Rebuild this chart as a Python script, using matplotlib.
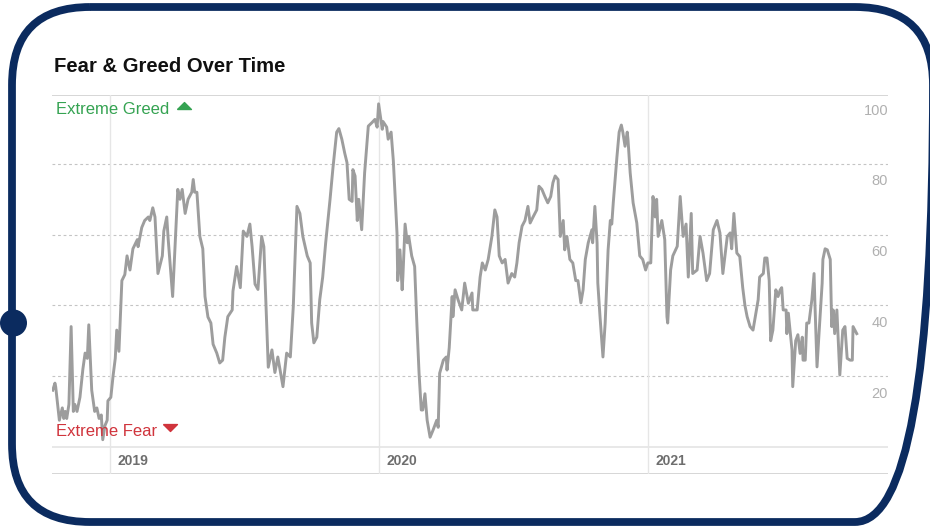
import numpy as np
import matplotlib
matplotlib.use("Agg")
import matplotlib.pyplot as plt
import matplotlib.dates as mdates
from matplotlib.patches import FancyBboxPatch, Circle

plt.rcParams['font.family'] = ['Liberation Sans', 'DejaVu Sans']

# index readings, as days after the first sample date
start_date = np.datetime64('2018-10-14')
day_offsets = [
    1, 4, 5, 10, 14, 16, 18, 20, 23, 26,
    29, 31, 34, 38, 42, 45, 48, 50, 54, 58,
    61, 64, 67, 69, 72, 75, 76, 80, 83, 86,
    88, 91, 95,
    99, 102, 106, 110, 116, 117, 122, 126, 131, 133,
    137, 140, 144, 150, 152, 156, 158, 164, 171, 174,
    177, 181, 185, 190, 192, 194, 197, 201, 205, 208,
    212, 216, 219, 224, 228, 232, 235, 239, 245, 246,
    251, 256, 260, 265, 269, 272, 276, 280, 285, 288,
    294, 299, 303, 307, 314, 319, 324, 328, 333, 337,
    341, 347, 351, 353, 356, 360, 364, 368, 372, 378,
    382, 387, 390,
    394, 398, 401, 404, 408, 409, 412, 415, 417, 421,
    425, 430, 435, 439, 442, 444, 449, 450, 455, 457,
    461, 464, 469, 470, 473, 476, 477, 480, 483, 485,
    489, 493, 496, 499, 502, 504, 507, 510, 514, 518,
    523, 525, 527, 532, 536, 537, 540, 544, 545, 548,
    552, 557, 561, 566, 571, 572, 578, 582, 585, 589,
    593, 598, 602, 605, 608, 612, 616, 620, 625, 629,
    632, 635, 639, 643, 647, 650, 654, 659, 662, 666,
    670, 674, 678, 681, 684, 688, 691, 695, 697, 700,
    704, 708, 712, 715, 719, 722, 725, 729, 734, 735,
    738, 741, 742, 745, 749, 752, 756, 759, 761, 763,
    768,
    771, 774, 776, 779, 782, 783, 786, 790, 795, 799,
    803, 807, 810, 814, 817, 820, 822, 824, 829, 833,
    836, 837, 841, 844, 850, 854, 858, 862, 865, 869,
    871, 877, 881, 885, 890, 894, 899, 904, 908, 912,
    918, 922, 924, 927, 931, 935, 939, 942, 945, 949,
    953, 960, 962, 967, 969, 972, 975, 977, 980, 984,
    987, 990, 992, 994, 998, 999, 1001, 1006, 1007, 1011,
    1014, 1017, 1020, 1021, 1024, 1026, 1029, 1033, 1036, 1037,
    1040, 1043, 1047, 1048, 1051, 1054, 1058, 1060, 1062, 1064,
    1067, 1071, 1075, 1078, 1081, 1085, 1088, 1089, 1094,
]
index_values = [
    16, 18, 17, 7.5, 11, 8, 10, 8, 12, 34,
    10, 12, 10, 14, 22, 26.5, 25, 34.5, 16, 10,
    11, 8, 9, 2, 6, 7.5, 13, 14, 20, 25,
    33, 27, 47,
    48.7, 54, 50, 56, 58.6, 56.6, 62, 64, 65, 64,
    67.6, 65, 49, 54, 61, 65, 58.6, 42.5, 72.8, 70,
    72.8, 66, 70, 72, 75.6, 72, 72, 59.5, 56, 42.5,
    36.7, 35, 29, 26.5, 23.7, 24.5, 31, 36.8, 38.7, 44,
    51, 45, 61, 59.5, 63, 56.7, 46, 44.5, 59.5, 56.6,
    22.5, 27.4, 21, 25.4, 17, 26.5, 25.4, 39.6, 68, 66,
    59.5, 54, 52, 35, 29.4, 31, 41.6, 48, 57.6, 70,
    79, 89, 90,
    87, 83, 80.4, 70, 69.4, 78.4, 76.6, 64, 70, 61.4,
    77.5, 90.7, 91.7, 92.6, 90.4, 97, 89.8, 92, 90.4, 87,
    89, 81, 60.5, 47, 55.7, 44.4, 48, 63, 57.7, 59.5,
    54, 51, 35, 20.8, 10.4, 10.4, 15, 7.5, 2.7, 4.7,
    7.5, 5.5, 20.8, 24.5, 25.4, 21.7, 28, 42.5, 36.8, 44.4,
    41.6, 38.7, 46.3, 40.6, 43.5, 38.7, 38.7, 48, 52, 50,
    53, 59.5, 67, 65, 54, 52, 53, 46.3, 49, 48,
    52, 57.7, 62.4, 64, 68, 63.3, 65, 67, 73.7, 72.8,
    70.8, 69, 70.8, 74.7, 76.6, 75.6, 59.5, 64, 55.7, 59.5,
    53, 52, 47, 47, 40.7, 44.4, 53, 57.7, 61.4, 57.7,
    68, 57.7, 46.3, 36.8, 25.4, 35, 55.7, 64, 63, 69,
    82,
    89, 91, 89, 85, 89, 87, 77.5, 69, 63.3, 54,
    53, 50, 52, 52, 70.8, 65, 70, 59.5, 64, 58.6,
    36.8, 35, 50, 54, 56.7, 70.8, 59.5, 63, 48, 66,
    49, 50, 59.5, 54.8, 47, 49, 61.4, 64, 60.5, 49,
    59.5, 60.5, 56, 66, 54.8, 53.8, 45, 40, 36.8, 34,
    33, 41.6, 48, 49, 53.4, 53.4, 47, 30, 33, 44.4,
    42.5, 44.4, 45, 38.7, 38.7, 32, 37.8, 27.4, 17, 30,
    31.7, 26.4, 31, 24.5, 24.5, 35, 35, 41.6, 49, 41.6,
    22.6, 33, 46.3, 53, 56, 55.7, 53, 34, 38.7, 32,
    38.7, 20.3, 33, 34, 25, 24.5, 24.5, 34, 32,
]
grid_levels = [20, 40, 60, 80]
tick_levels = [20, 40, 60, 80, 100]
year_starts = ['2019-01-01', '2020-01-01', '2021-01-01']
year_labels = ['2019', '2020', '2021']

assert len(day_offsets) == len(index_values)
dates = start_date + np.array(day_offsets).astype('timedelta64[D]')

navy = '#0b2b5f'
greed_green = '#35a352'
fear_red = '#d0343c'
fig = plt.figure(figsize=(9.3, 5.29), dpi=100)
fig.patch.set_facecolor('white')

# background layer in pixel units for the rounded frame
bg = fig.add_axes([0, 0, 1, 1], zorder=0)
bg.set_xlim(0, 930)
bg.set_ylim(529, 0)
bg.axis('off')
frame = FancyBboxPatch((12, 7), 921, 515,
                       boxstyle='round,pad=0,rounding_size=78',
                       fc='none', ec=navy, lw=5.6, clip_on=False)
bg.add_patch(frame)
bg.add_patch(Circle((13.5, 323), 13.5, fc=navy, ec='none', clip_on=False))
bg.text(54, 67, 'Fear & Greed Over Time', fontsize=14.6, fontweight='bold',
        color='#111111', va='center', ha='left')

# flat triangles beside the zone labels
tri_up = [(-1, 0), (1, 0), (0, 1), (-1, 0)]
tri_down = [(-1, 1), (1, 1), (0, 0), (-1, 1)]
bg.plot([184], [108.5], marker=tri_up, ms=10, color=greed_green, ls='none')
bg.plot([170], [431], marker=tri_down, ms=10, color=fear_red, ls='none')

ax = fig.add_axes([52 / 930, 55 / 529, 836 / 930, 379 / 529], zorder=1)
ax.patch.set_alpha(0)
x0 = mdates.date2num(start_date)
ax.set_xlim(x0, x0 + 1136.5)
ax.set_ylim(-7.7, 99.5)
for s in ax.spines.values():
    s.set_visible(False)
ax.set_xticks([])
ax.set_yticks([])

for lvl in grid_levels:
    ax.axhline(lvl, color='#c4c4c4', lw=0.8, ls=(0, (2.5, 2.5)), zorder=1)
ax.axhline(99.5, color='#cfcfcf', lw=1.2, zorder=1)
ax.axhline(0, color='#e4e4e4', lw=1.2, zorder=1)
ax.axhline(-7.7, color='#cfcfcf', lw=1.2, zorder=1)

for ys, yl in zip(year_starts, year_labels):
    xd = mdates.date2num(np.datetime64(ys))
    ax.axvline(xd, color='#e6e6e6', lw=1.0, zorder=1)
    ax.annotate(yl, (xd, -4.1), xytext=(5.5, 0), textcoords='offset points',
                fontsize=10, fontweight='bold', color='#6e6e6e',
                va='center', ha='left')

for lvl in tick_levels:
    ax.annotate(str(lvl), (1, lvl), xycoords=('axes fraction', 'data'),
                xytext=(0, -12.6), textcoords='offset points',
                fontsize=10.5, color='#b0b0b0', va='center', ha='right')

ax.plot(dates, index_values, color='#9d9d9d', lw=2.1, zorder=3,
        solid_joinstyle='round')

ax.annotate('Extreme Greed', (0, 95.5), xycoords=('axes fraction', 'data'),
            xytext=(3, 0), textcoords='offset points', fontsize=12,
            color=greed_green, va='center', ha='left', zorder=4)
ax.annotate('Extreme Fear', (0, 4.4), xycoords=('axes fraction', 'data'),
            xytext=(3, 0), textcoords='offset points', fontsize=12,
            color=fear_red, va='center', ha='left', zorder=4)

fig.savefig('out.png', dpi=100, facecolor='white')
